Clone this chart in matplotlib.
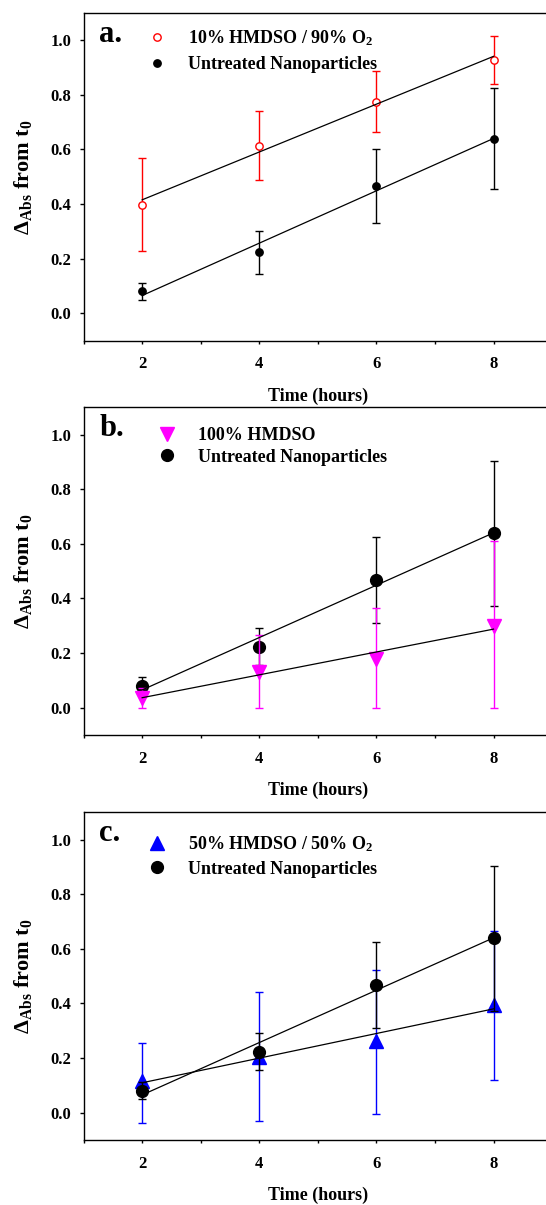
import matplotlib
matplotlib.use("Agg")
import matplotlib.pyplot as plt
import numpy as np
from matplotlib.ticker import MultipleLocator

plt.rcParams['font.family'] = ['Liberation Serif', 'DejaVu Serif']
plt.rcParams['font.weight'] = 'bold'
plt.rcParams['mathtext.default'] = 'regular'

hours = [2, 4, 6, 8]

# untreated nanoparticles (same means in every panel)
untreated = [0.081, 0.224, 0.467, 0.639]
untreated_err_a = [0.031, 0.079, 0.135, 0.185]
untreated_err_bc = [0.032, 0.068, 0.157, 0.266]

# a. 10% HMDSO / 90% O2
hmdso10 = [0.397, 0.614, 0.775, 0.927]
hmdso10_err = [0.170, 0.126, 0.112, 0.088]

# b. 100% HMDSO (lower bars stop at zero)
hmdso100 = [0.037, 0.132, 0.180, 0.300]
hmdso100_lo = [0.037, 0.132, 0.180, 0.300]
hmdso100_hi = [0.035, 0.134, 0.186, 0.310]

# c. 50% HMDSO / 50% O2
hmdso50 = [0.115, 0.205, 0.264, 0.396]
hmdso50_lo = [0.153, 0.237, 0.268, 0.275]
hmdso50_hi = [0.141, 0.236, 0.260, 0.268]

x = np.array(hours)


def fit_line(ax, y):
    k, b = np.polyfit(x, y, 1)
    ax.plot(x, k * x + b, color='black', lw=0.9, zorder=5)


def style(ax, letter):
    ax.set_xlim(1, 9)
    ax.set_ylim(-0.1, 1.1)
    ax.set_xticks(hours)
    ax.xaxis.set_minor_locator(MultipleLocator(1))
    ax.set_yticks([0.0, 0.2, 0.4, 0.6, 0.8, 1.0])
    ax.yaxis.set_major_formatter(plt.FuncFormatter(lambda v, _: f'{v:.1f}'))
    ax.spines['right'].set_visible(False)
    for s in ['left', 'bottom', 'top']:
        ax.spines[s].set_linewidth(1.0)
    ax.tick_params(axis='y', direction='out', length=3, width=1.0,
                   labelsize=12, pad=6)
    ax.tick_params(axis='x', which='both', direction='out', length=2.2,
                   width=1.0, labelsize=12, pad=9)
    ax.set_xlabel('Time (hours)', fontsize=13, fontweight='bold')
    ax.xaxis.set_label_coords(0.5, -0.142)
    ax.set_ylabel(r'Δ$_{Abs}$ from t$_0$', fontsize=16, fontweight='bold')
    ax.yaxis.set_label_coords(-0.13, 0.5)
    ax.yaxis.label.set_va('center')
    ax.text(0.033, 0.911, letter, transform=ax.transAxes, fontsize=22,
            fontweight='bold', va='baseline', ha='left')


fig = plt.figure(figsize=(5.46, 12.05), dpi=100)
left, width, height = 0.1531, 0.858, 0.272
ax_a = fig.add_axes([left, 0.7173, width, height])
ax_b = fig.add_axes([left, 0.3900, width, height])
ax_c = fig.add_axes([left, 0.0539, width, height])

# panel a
h1 = ax_a.errorbar(x, hmdso10, yerr=hmdso10_err, fmt='o', ms=5.3,
                   mfc='white', mec='red', mew=1.0, ecolor='red',
                   elinewidth=1.0, capsize=3, capthick=1.0, zorder=3)
h2 = ax_a.errorbar(x, untreated, yerr=untreated_err_a, fmt='o', ms=5.3,
                   color='black', ecolor='black', elinewidth=1.0,
                   capsize=3, capthick=1.0, zorder=3)
fit_line(ax_a, hmdso10)
fit_line(ax_a, untreated)
style(ax_a, 'a.')
ax_a.legend([h1[0], h2[0]], ['10% HMDSO / 90% O$_2$', 'Untreated Nanoparticles'],
            loc='upper left', bbox_to_anchor=(0.1375, 0.954), frameon=False,
            fontsize=13, handlelength=1.0, handletextpad=1.22,
            labelspacing=0.47, borderpad=0, borderaxespad=0)

# panel b
h2 = ax_b.errorbar(x, untreated, yerr=untreated_err_bc, fmt='o', ms=8.5,
                   color='black', ecolor='black', elinewidth=1.0,
                   capsize=3, capthick=1.0, zorder=3)
h1 = ax_b.errorbar(x, hmdso100, yerr=[hmdso100_lo, hmdso100_hi], fmt='v',
                   ms=9.5, color='#ff00ff', ecolor='#ff00ff', elinewidth=1.0,
                   capsize=3, capthick=1.0, zorder=4)
fit_line(ax_b, hmdso100)
fit_line(ax_b, untreated)
style(ax_b, 'b.')
ax_b.legend([h1[0], h2[0]], ['100% HMDSO', 'Untreated Nanoparticles'],
            loc='upper left', bbox_to_anchor=(0.158, 0.939), frameon=False,
            fontsize=13, handlelength=1.0, handletextpad=1.25,
            labelspacing=0.25, borderpad=0, borderaxespad=0)

# panel c
h1 = ax_c.errorbar(x, hmdso50, yerr=[hmdso50_lo, hmdso50_hi], fmt='^',
                   ms=9.5, color='blue', ecolor='blue', elinewidth=1.0,
                   capsize=3, capthick=1.0, zorder=3)
h2 = ax_c.errorbar(x, untreated, yerr=untreated_err_bc, fmt='o', ms=8.5,
                   color='black', ecolor='black', elinewidth=1.0,
                   capsize=3, capthick=1.0, zorder=4)
fit_line(ax_c, hmdso50)
fit_line(ax_c, untreated)
style(ax_c, 'c.')
ax_c.legend([h1[0], h2[0]], ['50% HMDSO / 50% O$_2$', 'Untreated Nanoparticles'],
            loc='upper left', bbox_to_anchor=(0.1375, 0.933), frameon=False,
            fontsize=13, handlelength=1.0, handletextpad=1.22,
            labelspacing=0.37, borderpad=0, borderaxespad=0)

fig.savefig('out.png', dpi=100)
